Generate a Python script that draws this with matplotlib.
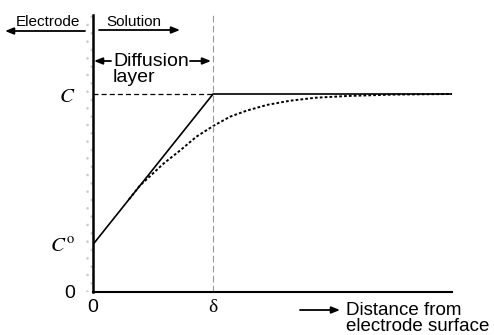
import numpy as np
import matplotlib.pyplot as plt
from matplotlib.patches import Rectangle

plt.rcParams['font.family'] = 'Liberation Sans'
plt.rcParams['mathtext.fontset'] = 'stix'
plt.rcParams['hatch.linewidth'] = 0.6

# concentration profile, x in units of delta, y in units of bulk C
delta = 1.0
c_bulk = 1.0
c_surf = 0.24
x_end = 2.99

linear_x = [0.0, delta, x_end]
linear_y = [c_surf, c_bulk, c_bulk]

real_x = [0.30, 0.39, 0.59, 0.73, 0.86, 1.00, 1.14, 1.28, 1.45, 1.64, 1.85, 2.12, 2.5, 2.99]
real_y = [0.468, 0.537, 0.65, 0.717, 0.784, 0.838, 0.885, 0.916, 0.945, 0.966, 0.981, 0.99, 0.997, 1.0]

xtick_pos = [0.0, delta]
xtick_lab = ['0', 'δ']
ytick_pos = [0.0, c_surf, c_bulk]
ytick_lab = ['0', r'$C^{\mathrm{o}}$', r'$C$']

W, H = 494, 335
fig = plt.figure(figsize=(W / 100, H / 100), dpi=100)
ax = fig.add_axes([93 / W, 43 / H, 359 / W, 277 / H])
ax.set_xlim(0, x_end)
ax.set_ylim(0, 1.399)

ax.plot(linear_x, linear_y, color='black', lw=1.2, solid_joinstyle='miter')
ax.plot(real_x, real_y, color='black', lw=1.4, linestyle=(0, (1.4, 1.1)))
ax.plot([0, delta], [c_bulk, c_bulk], color='black', lw=0.9, linestyle=(0, (4, 2.5)))
ax.axvline(delta, color='#999999', lw=0.8, linestyle=(0, (6, 3)))

# stippled electrode surface
ax.add_patch(Rectangle((-0.058, 0), 0.058, 1.399, facecolor='none', edgecolor='#cccccc',
                       hatch='..', lw=0, clip_on=False))

for s in ['top', 'right']:
    ax.spines[s].set_visible(False)
ax.spines['left'].set_linewidth(1.8)
ax.spines['bottom'].set_linewidth(1.5)

ax.set_xticks(xtick_pos)
ax.set_xticklabels(xtick_lab, fontsize=14)
ax.set_yticks(ytick_pos)
ax.set_yticklabels(ytick_lab, fontsize=15)
ax.tick_params(length=0)
ax.tick_params(axis='y', pad=13)
ax.tick_params(axis='x', pad=5)
ax.get_xticklabels()[1].set_fontfamily('Liberation Serif')
ax.get_yticklabels()[0].set_fontsize(14)

arr = dict(arrowstyle='-|>,head_length=0.5,head_width=0.2', color='black', lw=1.3,
           shrinkA=0, shrinkB=0)

def fpx(x, y):
    return (x, H - y)

fig.text(16 / W, 1 - 26.5 / H, 'Electrode', fontsize=11, va='baseline', ha='left')
ax.annotate('', xy=fpx(5, 31), xytext=fpx(85, 31), xycoords='figure pixels',
            textcoords='figure pixels', arrowprops=arr)
fig.text(106 / W, 1 - 26.5 / H, 'Solution', fontsize=11, va='baseline', ha='left')
ax.annotate('', xy=fpx(180, 30), xytext=fpx(99, 30), xycoords='figure pixels',
            textcoords='figure pixels', arrowprops=arr)

fig.text(113 / W, 1 - 82 / H, 'Diffusion\nlayer', fontsize=14, va='baseline', ha='left',
         linespacing=0.92)
ax.annotate('', xy=fpx(94, 61), xytext=fpx(111, 61), xycoords='figure pixels',
            textcoords='figure pixels', arrowprops=arr)
ax.annotate('', xy=fpx(211, 61), xytext=fpx(190, 61), xycoords='figure pixels',
            textcoords='figure pixels', arrowprops=arr)

fig.text(346 / W, 1 - 331 / H, 'Distance from\nelectrode surface', fontsize=13.5,
         va='baseline', ha='left', linespacing=0.9)
ax.annotate('', xy=fpx(340, 310), xytext=fpx(300, 310), xycoords='figure pixels',
            textcoords='figure pixels', arrowprops=arr)

fig.savefig('out.png', dpi=100)
